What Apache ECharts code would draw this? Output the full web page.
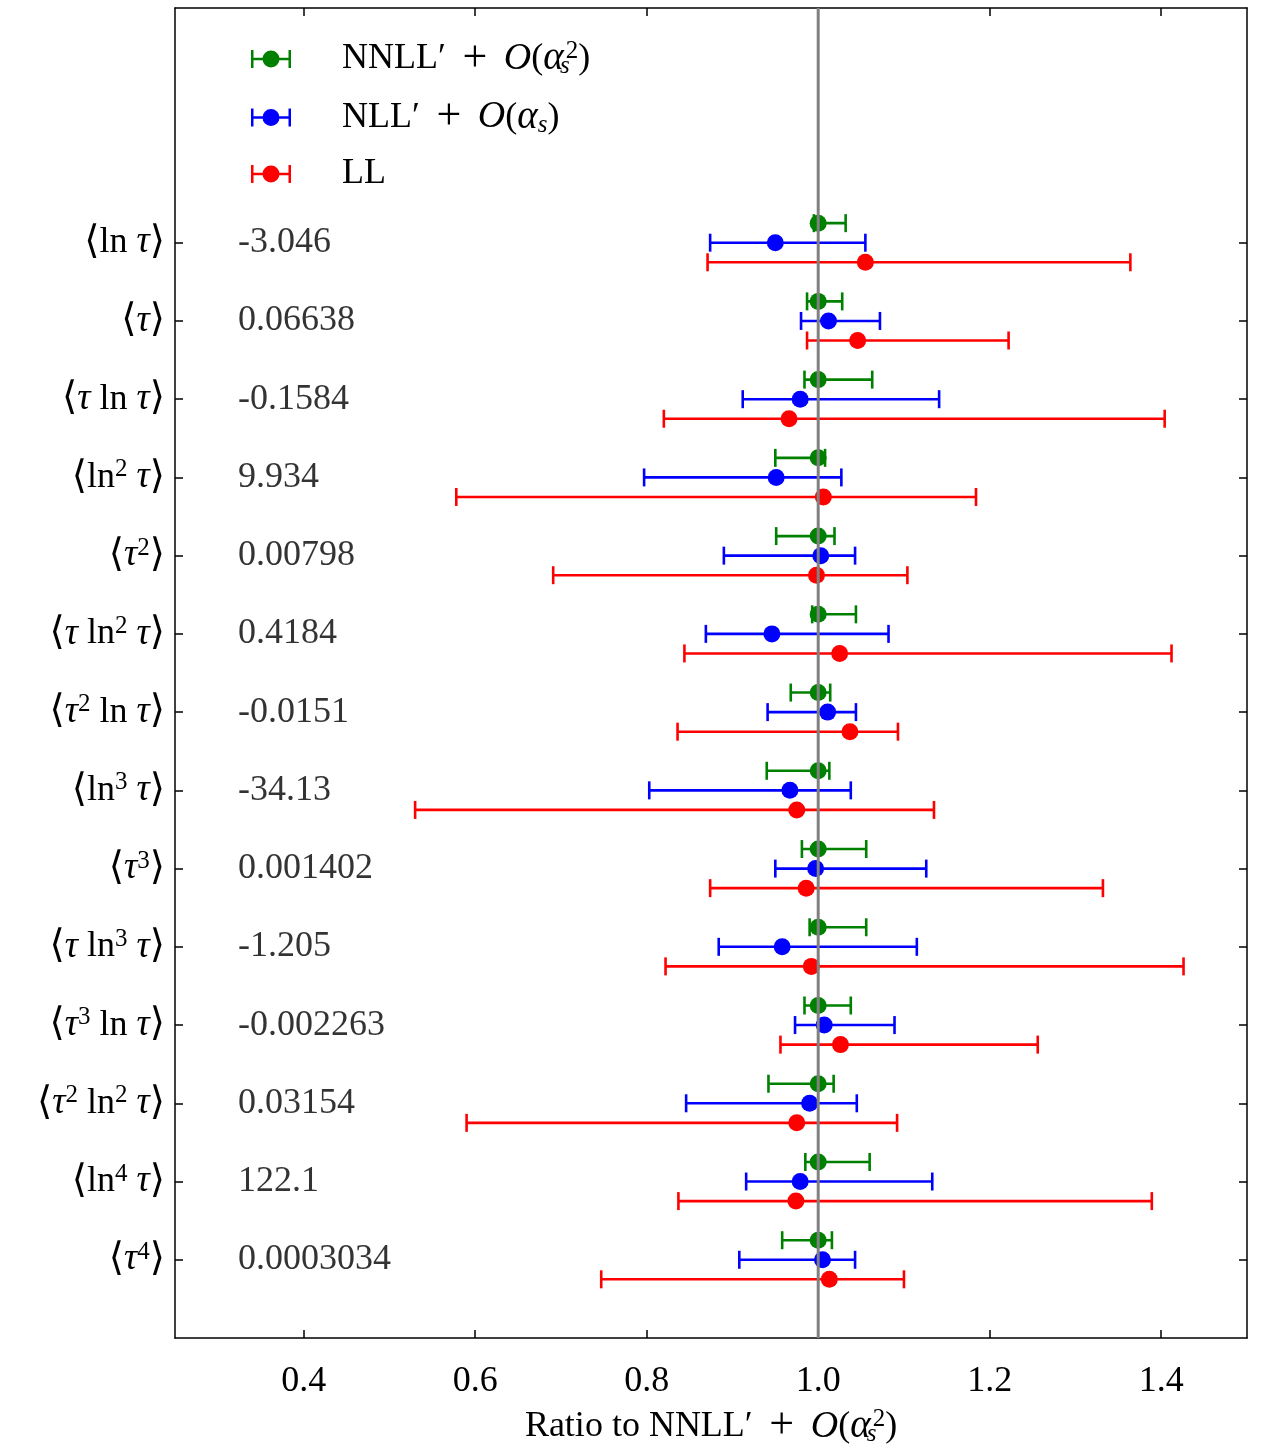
<!DOCTYPE html>
<html>
<head>
<meta charset="utf-8">
<script src="https://cdn.jsdelivr.net/npm/echarts@6.0.0/dist/echarts.min.js"></script>
<style>
  html, body { margin: 0; padding: 0; background: #fff; }
  #chart { width: 1261px; height: 1447px; }
</style>
</head>
<body>
<div id="chart"></div>
<script>
// moments, top to bottom
const rowLabels = ['⟨ln τ⟩', '⟨τ⟩', '⟨τ ln τ⟩', '⟨ln² τ⟩', '⟨τ²⟩', '⟨τ ln² τ⟩', '⟨τ² ln τ⟩',
    '⟨ln³ τ⟩', '⟨τ³⟩', '⟨τ ln³ τ⟩', '⟨τ³ ln τ⟩', '⟨τ² ln² τ⟩', '⟨ln⁴ τ⟩', '⟨τ⁴⟩'];
const momentValues = ['-3.046', '0.06638', '-0.1584', '9.934', '0.00798', '0.4184', '-0.0151',
    '-34.13', '0.001402', '-1.205', '-0.002263', '0.03154', '122.1', '0.0003034'];

// NNLL' + O(as^2)
const nnllCenter = [1.0, 1.0, 1.0, 1.0, 1.0, 1.0, 1.0, 1.0, 1.0, 1.0, 1.0, 1.0, 1.0, 1.0];
const nnllLow = [0.995, 0.987, 0.984, 0.950, 0.951, 0.993, 0.968, 0.940, 0.981, 0.990, 0.984, 0.942, 0.985, 0.958];
const nnllHigh = [1.032, 1.028, 1.063, 1.008, 1.019, 1.044, 1.014, 1.013, 1.056, 1.056, 1.038, 1.018, 1.060, 1.016];

// NLL' + O(as)
const nllCenter = [0.950, 1.012, 0.979, 0.951, 1.003, 0.946, 1.011, 0.967, 0.997, 0.958, 1.007, 0.990, 0.979, 1.005];
const nllLow = [0.874, 0.980, 0.912, 0.797, 0.890, 0.869, 0.941, 0.803, 0.950, 0.884, 0.973, 0.846, 0.916, 0.908];
const nllHigh = [1.055, 1.072, 1.141, 1.027, 1.043, 1.082, 1.044, 1.038, 1.126, 1.115, 1.089, 1.045, 1.133, 1.043];

// LL
const llCenter = [1.055, 1.046, 0.966, 1.006, 0.998, 1.025, 1.037, 0.975, 0.986, 0.992, 1.026, 0.975, 0.974, 1.013];
const llLow = [0.871, 0.987, 0.820, 0.578, 0.691, 0.844, 0.836, 0.530, 0.874, 0.822, 0.956, 0.590, 0.837, 0.747];
const llHigh = [1.364, 1.222, 1.404, 1.184, 1.104, 1.412, 1.093, 1.135, 1.332, 1.426, 1.256, 1.092, 1.389, 1.100];

const xTicks = [0.4, 0.6, 0.8, 1.0, 1.2, 1.4];

const serif = "'Liberation Serif', 'DejaVu Serif', serif";
const ink = '#000';
const fs = 36;
const yMin = -3, yMax = 14;
const textX = 0.3235;   // where the moment values column starts
const refX = 1.0;

const rich = {
    t: {fontFamily: serif, fontStyle: 'italic', fontSize: 37, lineHeight: 40, color: ink},
    br: {fontFamily: serif, fontSize: 39, lineHeight: 40, color: ink},
    sp: {fontFamily: serif, fontSize: 25, lineHeight: 14, verticalAlign: 'top', color: ink},
    sb: {fontFamily: serif, fontStyle: 'italic', fontSize: 25, lineHeight: 22, verticalAlign: 'bottom', width: 2, color: ink},
    sbw: {fontFamily: serif, fontStyle: 'italic', fontSize: 25, lineHeight: 22, verticalAlign: 'bottom', color: ink},
    o: {fontFamily: serif, fontStyle: 'italic', fontSize: 38, lineHeight: 40, color: ink},
    a: {fontFamily: serif, fontStyle: 'italic', fontSize: 39, lineHeight: 40, color: ink},
    pl: {fontFamily: serif, fontSize: 44, lineHeight: 40, width: 58, align: 'center', color: ink},
    g: {width: 46, lineHeight: 40}
};

const supDigits = {'²': '2', '³': '3', '⁴': '4'};
function mathText(s) {
    return s.replace(/τ/g, '{t|τ}')
        .replace(/[²³⁴]/g, c => '{sp|' + supDigits[c] + '}')
        .replace(/⟨/g, '{br|⟨}').replace(/⟩/g, '{br|⟩}');
}

const legendLabels = {
    'NNLL': 'NNLL′{pl|+}{o|O}({a|α}{sb|s}{sp|2})',
    'NLL': 'NLL′{pl|+}{o|O}({a|α}{sbw|s})',
    'LL': 'LL'
};

function errSeries(name, color, offset, c, lo, hi) {
    return {
        name: name,
        type: 'custom',
        coordinateSystem: 'cartesian2d',
        itemStyle: {color: color},
        encode: {x: [0, 1, 2], y: 3},
        data: c.map((v, i) => [v, lo[i], hi[i], i]),
        z: 3,
        renderItem: function (params, api) {
            const y = api.value(3) + offset;
            const p = api.coord([api.value(0), y]);
            const a = api.coord([api.value(1), y]);
            const b = api.coord([api.value(2), y]);
            const st = {stroke: color, lineWidth: 2.6};
            return {
                type: 'group',
                children: [
                    {type: 'line', shape: {x1: a[0], y1: a[1], x2: b[0], y2: b[1]}, style: st},
                    {type: 'line', shape: {x1: a[0], y1: a[1] - 9, x2: a[0], y2: a[1] + 9}, style: st},
                    {type: 'line', shape: {x1: b[0], y1: b[1] - 9, x2: b[0], y2: b[1] + 9}, style: st},
                    {type: 'circle', shape: {cx: p[0], cy: p[1], r: 8.5}, style: {fill: color}}
                ]
            };
        }
    };
}

const rowIdx = rowLabels.map((_, i) => i);
const frame = {show: true, onZero: false, lineStyle: {color: '#000', width: 1.5}};
const tick = {show: true, inside: true, length: 8, lineStyle: {color: '#000', width: 1.5}};

var chart = echarts.init(document.getElementById('chart'));

var option = {
    animation: false,
    backgroundColor: '#fff',
    grid: {left: 175, right: 14, top: 8, bottom: 109, containLabel: false, outerBoundsMode: 'none'},
    legend: {
        data: ['NNLL', 'NLL', 'LL'],
        orient: 'vertical',
        left: 251,
        top: 37,
        padding: 0,
        itemGap: 14.5,
        itemWidth: 40,
        itemHeight: 18,
        icon: 'path://M0,0 h2.5 v7.75 h35 v-7.75 h2.5 v18 h-2.5 v-7.75 h-35 v7.75 h-2.5 z M11.5,9 a8.5,8.5 0 1,1 17,0 a8.5,8.5 0 1,1 -17,0 z',
        formatter: name => '{g|}' + legendLabels[name],
        textStyle: {fontFamily: serif, fontSize: fs, lineHeight: 40, color: ink, rich: rich}
    },
    xAxis: [
        {
            type: 'value', min: 0.25, max: 1.5, position: 'bottom',
            splitLine: {show: false},
            axisLine: frame,
            axisTick: Object.assign({customValues: xTicks}, tick),
            axisLabel: {
                customValues: xTicks, formatter: v => v.toFixed(1), margin: 26,
                fontFamily: serif, fontSize: fs, color: ink
            },
            name: 'Ratio to NNLL′{pl|+}{o|O}({a|α}{sb|s}{sp|2})',
            nameLocation: 'middle',
            nameGap: 66,
            nameTextStyle: {fontFamily: serif, fontSize: fs, lineHeight: 40, color: ink, rich: rich}
        },
        {
            type: 'value', min: 0.25, max: 1.5, position: 'top',
            splitLine: {show: false},
            axisLine: frame,
            axisTick: Object.assign({customValues: xTicks}, tick),
            axisLabel: {show: false}
        }
    ],
    yAxis: [
        {
            type: 'value', min: yMin, max: yMax, inverse: true, position: 'left',
            splitLine: {show: false},
            axisLine: frame,
            axisTick: Object.assign({customValues: rowIdx}, tick),
            axisLabel: {
                customValues: rowIdx, formatter: v => mathText(rowLabels[v]), margin: 10,
                fontFamily: serif, fontSize: fs, lineHeight: 40, color: ink, rich: rich
            }
        },
        {
            type: 'value', min: yMin, max: yMax, inverse: true, position: 'right',
            splitLine: {show: false},
            axisLine: frame,
            axisTick: Object.assign({customValues: rowIdx}, tick),
            axisLabel: {show: false}
        }
    ],
    series: [
        errSeries('NNLL', '#008000', -0.25, nnllCenter, nnllLow, nnllHigh),
        errSeries('NLL', '#0000ff', 0, nllCenter, nllLow, nllHigh),
        errSeries('LL', '#ff0000', 0.25, llCenter, llLow, llHigh),
        {
            name: 'values',
            type: 'scatter',
            symbolSize: 0,
            silent: true,
            data: momentValues.map((t, i) => [textX, i]),
            label: {
                show: true, position: 'right', distance: 0,
                formatter: p => momentValues[p.dataIndex],
                fontFamily: serif, fontSize: fs, color: ink
            }
        },
        {
            name: 'ref',
            type: 'line',
            symbol: 'none',
            silent: true,
            z: 10,
            lineStyle: {color: '#808080', width: 3},
            data: [[refX, yMin], [refX, yMax]]
        }
    ]
};

chart.setOption(option);
</script>
</body>
</html>
